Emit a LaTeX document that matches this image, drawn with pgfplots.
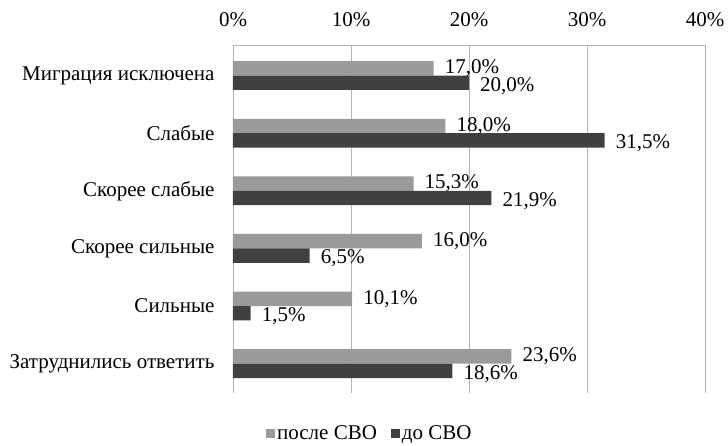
\documentclass[border=0pt]{standalone}
\usepackage{pgfplots}
\pgfplotsset{compat=1.18}
\usepackage{fontspec}
\setmainfont{Liberation Serif}

\definecolor{afterc}{HTML}{9A9A9A}
\definecolor{beforec}{HTML}{404040}
\definecolor{gridc}{HTML}{B4B4B4}

\begin{document}
\begin{tikzpicture}[x=1pt,y=1pt]
\useasboundingbox (0,0) rectangle (728,-445);
\begin{axis}[
  at={(233pt,-393pt)}, anchor=south west,
  scale only axis,
  width=472pt, height=348pt,
  xbar,
  bar width=0.25,
  xmin=0, xmax=40,
  ymin=-0.53, ymax=5.51,
  y dir=reverse,
  axis x line*=top,
  axis y line*=left,
  axis line style={draw=gridc, line width=0.9pt, -},
  xtick={0,10,20,30,40},
  xticklabel={\pgfmathprintnumber{\tick}\%},
  xticklabel style={font=\fontsize{21}{23}\selectfont, yshift=15pt},
  major tick length=0pt,
  xmajorgrids,
  grid style={draw=gridc, line width=0.9pt},
  ytick={0,1,2,3,4,5},
  yticklabels={Миграция исключена, Слабые, Скорее слабые, Скорее сильные, Сильные, Затруднились ответить},
  yticklabel style={font=\fontsize{21}{23}\selectfont, xshift=-15pt},
  /pgf/number format/assume math mode=true,
  point meta=x,
  nodes near coords={\pgfmathprintnumber[fixed,fixed zerofill,precision=1,use comma]{\pgfplotspointmeta}\%},
  nodes near coords style={font=\fontsize{21}{23}\selectfont, anchor=west, xshift=10pt, inner sep=1pt},
  clip=false,
  legend style={
    at={(0.29,-0.115)}, anchor=center,
    draw=none, fill=none,
    legend columns=2,
    font=\fontsize{21}{23}\selectfont,
    /tikz/every even column/.append style={column sep=12pt},
  },
  legend image code/.code={\fill[#1] (0pt,-4.5pt) rectangle (9pt,4.5pt);},
]
% after: upper bar of each pair
\addplot[fill=afterc, draw=none, bar shift=-0.125,
  every node near coord/.append style={yshift=0pt}] coordinates {
  (17.0,0) (18.0,1) (15.3,2) (16.0,3) (10.1,4) (23.6,5)
};
\addlegendentry{после СВО}
% before: lower bar of each pair
\addplot[fill=beforec, draw=none, bar shift=0.125,
  every node near coord/.append style={yshift=-3pt}] coordinates {
  (20.0,0) (31.5,1) (21.9,2) (6.5,3) (1.5,4) (18.6,5)
};
\addlegendentry{до СВО}
\end{axis}
\end{tikzpicture}
\end{document}
